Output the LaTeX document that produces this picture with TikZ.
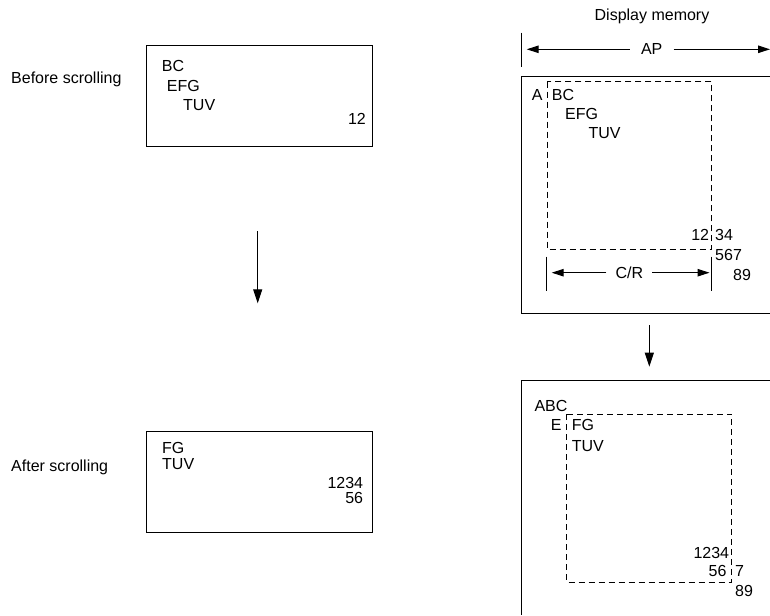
\documentclass[tikz,border=0pt]{standalone}
\usepackage{fontspec}
\setmainfont{Liberation Sans}
\usetikzlibrary{arrows.meta,positioning}
\tikzset{
  lbl/.style={inner sep=0pt, font=\fontsize{16}{19}\selectfont},
  txt/.style={lbl, anchor=base west},
  txtr/.style={lbl, anchor=base east},
  dimlbl/.style={lbl, anchor=center, inner ysep=0pt},
  screen/.style={draw, line width=1pt, inner sep=0pt, anchor=north west},
  frame/.style={line width=1pt},
  window/.style={draw, line width=0.9pt, dash pattern=on 6pt off 4pt},
  arrow/.style={-{Triangle[length=14pt,width=9pt]}, line width=1pt},
  dimarrow/.style={-{Triangle[length=12pt,width=7.5pt]}, line width=1pt},
  tick/.style={line width=1pt}
}
\begin{document}
\begin{tikzpicture}[x=1pt,y=-1pt]
  \useasboundingbox (0,0) rectangle (770,615);

  % screen before and after
  \node[txt] (before) at (11,83.3) {Before scrolling};
  \node[screen, minimum width=226pt, minimum height=101pt] (scr1) at (146,45) {};
  \node[txt] (s1a) at (161.7,71.7) {BC};
  \node[txt] (s1b) at (166.7,91.5) {EFG};
  \node[txt] (s1c) at (183,110.5) {TUV};
  \node[txtr] (s1d) at (366,124.3) {12};

  \coordinate (ltop) at (257.7,231);
  \coordinate (lbot) at (257.7,303.3);
  \draw[arrow] (ltop) -- (lbot);

  \node[txt] (after) at (11,471) {After scrolling};
  \node[screen, minimum width=226pt, minimum height=101pt] (scr2) at (146,431) {};
  \node[txt] (s2a) at (162,453.3) {FG};
  \node[txt] (s2b) at (162,469.5) {TUV};
  \node[txtr] (s2c) at (363.3,488) {1234};
  \node[txtr] (s2d) at (363.3,503) {56};

  % display memory
  \node[lbl, anchor=base] (dm) at (652,21) {Display memory};
  \node[dimlbl, inner xsep=11pt] (ap) at (651.7,49.3) {AP};
  \coordinate (apL) at (526.7,49.3);
  \coordinate (apR) at (770,49.3);
  \draw[tick] (521.7,32.7) -- (521.7,66.7);
  \draw[dimarrow] (ap.west) -- (apL);
  \draw[dimarrow] (ap.east) -- (apR);

  \draw[frame] (770,77) -- (521,77) -- (521,313) -- (770,313);
  \draw[window] (547.3,81.7) rectangle (711.7,249.3);
  \node[txt] (m1a) at (531.7,100) {A};
  \node[txt] (m1b) at (551.7,100) {BC};
  \node[txt] (m1c) at (565,120) {EFG};
  \node[txt] (m1d) at (588.3,138) {TUV};
  \node[txtr] (m1e) at (709.3,240) {12};
  \node[txt] (m1f) at (715,240) {34};
  \node[txt] (m1g) at (715,260) {567};
  \node[txt] (m1h) at (733,280) {89};

  \node[dimlbl, inner xsep=9pt] (cr) at (629.3,272.7) {C/R};
  \coordinate (crL) at (551.7,272.7);
  \coordinate (crR) at (709.5,272.7);
  \draw[tick] (546.7,256.7) -- (546.7,290.7);
  \draw[tick] (711.7,256.7) -- (711.7,290.7);
  \draw[dimarrow] (cr.west) -- (crL);
  \draw[dimarrow] (cr.east) -- (crR);

  \coordinate (rtop) at (649.3,325);
  \coordinate (rbot) at (649.3,366.7);
  \draw[arrow] (rtop) -- (rbot);

  \draw[frame] (770,380) -- (521,380) -- (521,615);
  \draw[window] (566.7,414) rectangle (731.7,582);
  \node[txt] (m2a) at (534.3,411.7) {ABC};
  \node[txtr] (m2b) at (561.7,430) {E};
  \node[txt] (m2c) at (571.7,430) {FG};
  \node[txt] (m2d) at (571.7,451.7) {TUV};
  \node[txtr] (m2e) at (729.3,558.3) {1234};
  \node[txtr] (m2f) at (726.7,576.7) {56};
  \node[txt] (m2g) at (735,576.7) {7};
  \node[txt] (m2h) at (735,596.7) {89};
\end{tikzpicture}
\end{document}
